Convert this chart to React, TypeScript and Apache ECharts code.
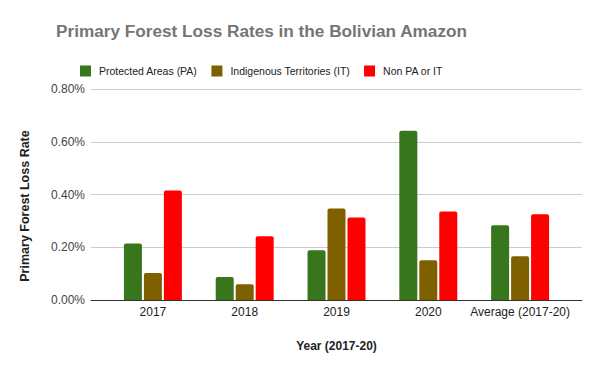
import React, { useEffect, useRef } from "react";
import * as echarts from "echarts";

const categories = ["2017", "2018", "2019", "2020", "Average (2017-20)"];
const protectedAreas = [0.214, 0.087, 0.189, 0.642, 0.283];
const indigenousTerritories = [0.102, 0.06, 0.347, 0.151, 0.166];
const nonPaOrIt = [0.415, 0.242, 0.313, 0.336, 0.325];
const seriesNames = ["Protected Areas (PA)", "Indigenous Territories (IT)", "Non PA or IT"];
const colors = ["#38761d", "#7f6000", "#ff0000"];

const FONT = "Arial, 'Liberation Sans', sans-serif";

export default function App() {
  const ref = useRef<HTMLDivElement>(null);
  useEffect(() => {
    document.body.style.margin = "0";
    const chart = echarts.init(ref.current!, undefined, { renderer: "svg" });
    const mk = (name: string, data: number[], i: number) => ({
      name,
      type: "bar",
      xAxisIndex: 1,
      yAxisIndex: 1,
      data,
      barWidth: 18,
      barGap: "11%",
      itemStyle: { color: colors[i], borderRadius: [2, 2, 0, 0] },
    });
    chart.setOption({
      animation: false,
      backgroundColor: "#ffffff",
      textStyle: { fontFamily: FONT },
      title: {
        text: "Primary Forest Loss Rates in the Bolivian Amazon",
        left: 56,
        top: 22,
        padding: 0,
        textStyle: { fontSize: 17.2, fontWeight: "bold", color: "#757575", fontFamily: FONT },
      },
      legend: {
        left: 80,
        top: 65.5,
        padding: 0,
        itemWidth: 11,
        itemHeight: 11,
        itemGap: 14,
        icon: "rect",
        data: seriesNames,
        textStyle: { fontSize: 10.5, color: "#222", fontFamily: FONT, padding: [0, 0, 0, 3] },
      },
      grid: [
        { left: 91, right: 18, top: 89, bottom: 71 },
        { left: 107, right: 34, top: 89, bottom: 71 },
      ],
      xAxis: [
        {
          type: "value",
          gridIndex: 0,
          min: 0,
          max: 1,
          axisLine: { show: true, onZero: false, lineStyle: { color: "#333", width: 1 } },
          axisTick: { show: false },
          axisLabel: { show: false },
          splitLine: { show: false },
        },
        {
          type: "category",
          gridIndex: 1,
          data: categories,
          axisLine: { show: false },
          axisTick: { show: false },
          axisLabel: { fontSize: 12, color: "#222", margin: 6, interval: 0, fontFamily: FONT },
          name: "Year (2017-20)",
          nameLocation: "middle",
          nameGap: 40,
          nameTextStyle: { fontSize: 12, fontWeight: "bold", color: "#222", fontFamily: FONT },
        },
      ],
      yAxis: [
        {
          type: "value",
          gridIndex: 0,
          min: 0,
          max: 0.8,
          interval: 0.2,
          axisLine: { show: false },
          axisTick: { show: false },
          axisLabel: {
            fontSize: 12,
            color: "#444",
            margin: 6,
            fontFamily: FONT,
            formatter: (v: number) => v.toFixed(2) + "%",
          },
          splitLine: { show: true, lineStyle: { color: "#cccccc", width: 1 } },
          name: "Primary Forest Loss Rate",
          nameLocation: "middle",
          nameGap: 60,
          nameTextStyle: {
            fontSize: 12.5,
            fontWeight: "bold",
            color: "#222",
            fontFamily: FONT,
            padding: [0, 23, 0, 0],
          },
        },
        {
          type: "value",
          gridIndex: 1,
          min: 0,
          max: 0.8,
          interval: 0.2,
          show: false,
          splitLine: { show: false },
        },
      ],
      series: [
        mk(seriesNames[0], protectedAreas, 0),
        mk(seriesNames[1], indigenousTerritories, 1),
        mk(seriesNames[2], nonPaOrIt, 2),
      ],
    });
    return () => chart.dispose();
  }, []);
  return <div ref={ref} style={{ width: 600, height: 371 }} />;
}
